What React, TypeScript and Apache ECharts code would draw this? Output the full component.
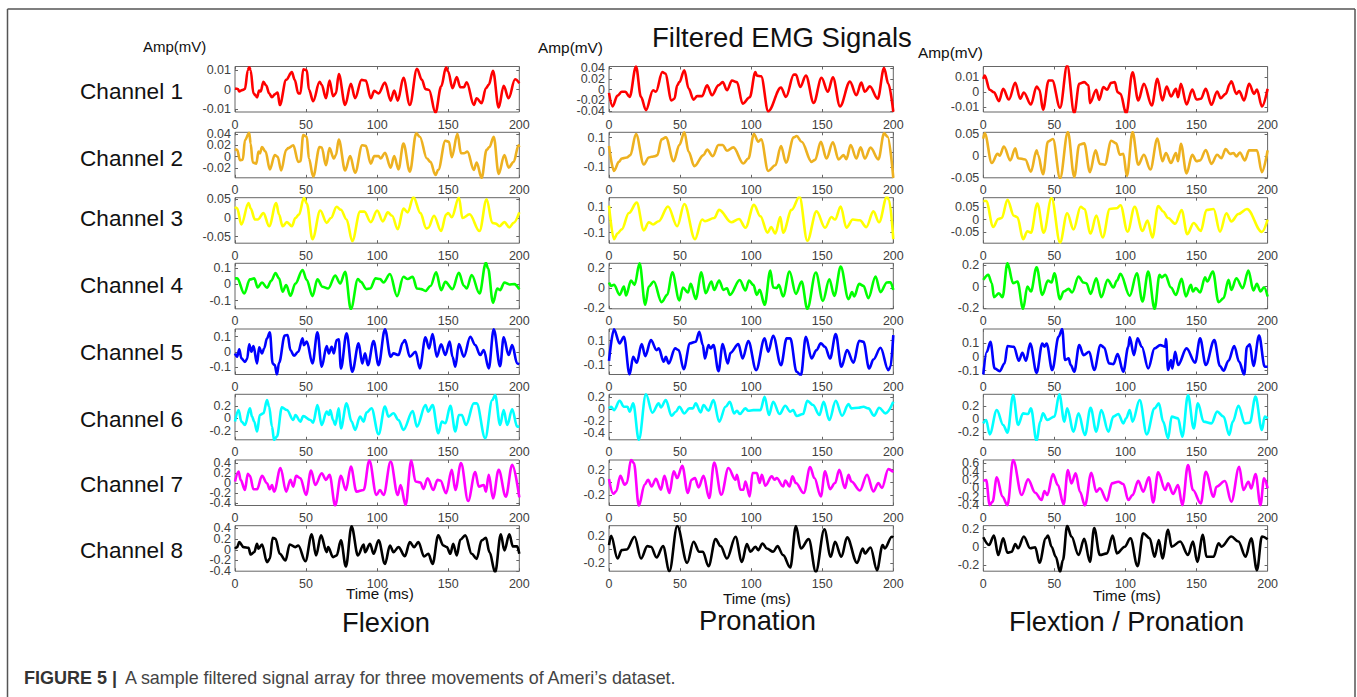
import React, { useEffect, useRef } from "react";
import * as echarts from "echarts";

type Pt = [number, number];

const flexionCh1: Pt[] = [[0,.0005],[2,.0003],[3,-.001],[5,-.0003],[7,.0003],[9,.01],[10,.0115],[11,.01],[13,-.002],[14.5,-.003],[15.5,-.004],[17,-.0005],[18,-.001],[20,.004],[22,.002],[24,-.002],[26,-.004],[28,-.0025],[30,-.0015],[31.5,-.008],[36,.005],[40,.009],[42,.005],[44.5,-.002],[46,-.002],[48,.0105],[50.5,.01],[52,0],[55,-.006],[59.5,.004],[61,.0025],[64,-.0045],[66.5,.0047],[69,-.0035],[71,-.002],[73,.008],[77.5,-.008],[81.5,.003],[84.5,-.0045],[89,.005],[92,.0047],[95.5,-.0045],[98,-.0007],[101,-.002],[105.5,.0036],[109.5,-.0057],[112,-.0005],[114.5,-.0057],[118.5,.006],[123,-.008],[128,.0107],[131.5,.005],[134,.0002],[136.5,-.0002],[141,-.012],[145,.0015],[148.5,.0115],[150,.0092],[153,.0007],[156,.0064],[158.5,.0012],[161,.0012],[163,.0038],[168,-.008],[170,-.0045],[173.5,-.007],[176.5,.0007],[178.5,.0024],[181.5,.0097],[185.5,-.0093],[189,.0019],[192.5,-.0045],[197,.0053],[200,.0033]];
const flexionCh2: Pt[] = [[0,.013],[1.5,.012],[3.5,-.006],[5.5,-.005],[7,.029],[10,.042],[11,.023],[12.5,-.01],[15,-.012],[16.5,.009],[17.5,.006],[19,.017],[21.5,.009],[24.5,-.022],[28,.003],[30,0],[32.5,-.024],[36,.012],[37.5,.015],[41,.02],[44.5,-.009],[46,-.008],[48,.038],[50.5,.035],[52,-.003],[55,-.035],[59.5,.017],[61,.016],[64,-.015],[66.5,.015],[69.5,-.003],[71,.003],[73,.03],[77.5,-.024],[81,.001],[84.5,-.028],[89.5,.02],[92,.019],[95.5,-.012],[98,.001],[101,.001],[102.5,-.003],[105.5,.007],[109.5,-.019],[112,.001],[115,-.022],[118.5,.023],[123,-.026],[127.5,.041],[130,.035],[135,-.003],[137.5,-.009],[141,-.032],[143,-.023],[148,.028],[150.5,.026],[152.5,-.001],[156.5,.04],[159,.006],[161,.006],[163.5,.009],[168,-.023],[170,-.01],[173.5,-.037],[177,.012],[179,.017],[182,.035],[185.5,-.03],[189.5,.003],[192.5,-.019],[196,-.009],[199.5,.02],[200,.017]];
const flexionCh3: Pt[] = [[0,.03],[1.5,.026],[4.5,-.0175],[9.5,.04],[11,.026],[14,-.004],[16,-.004],[20,.013],[24,-.022],[29,.04],[31,.009],[33.5,-.022],[36.5,-.011],[40,-.022],[42.5,0],[45,.009],[48.5,.054],[50.5,.039],[54.5,-.057],[60,.02],[64.5,-.013],[67.5,0],[71.5,.03],[74.5,.022],[78.5,-.004],[82.5,-.062],[88,.017],[91,.017],[95.5,-.011],[100,.02],[104,-.009],[107.5,.015],[110.5,.006],[114.5,-.03],[118.5,.025],[121.5,.015],[125.5,.056],[130.5,.013],[134.5,-.028],[136,-.026],[140,.006],[145,-.035],[148.5,.009],[150,.013],[152.5,.002],[157.5,.055],[160,0],[165,.01],[172,-.035],[177,.05],[181,-.013],[183.5,-.015],[186,-.022],[189.5,-.011],[193,-.025],[196,-.013],[200,.015]];
const flexionCh4: Pt[] = [[0,.037],[1.5,.037],[6.5,-.056],[10.5,.031],[13.5,.037],[16,-.019],[19,.012],[22.5,-.02],[25.5,.023],[28.5,.07],[31,.037],[33.5,-.045],[36,-.004],[39,-.07],[42.5,.006],[47.5,.089],[50.5,.027],[54.5,-.072],[58,.031],[61.5,-.014],[65.5,-.025],[70.5,.054],[74,.006],[77.5,.078],[81.5,-.152],[86.5,.033],[88.5,.016],[92.5,-.029],[95,-.025],[99,.037],[102,.033],[104.5,.012],[109,.064],[114,-.072],[118.5,.047],[121.5,.033],[125,.047],[128,-.025],[131,-.029],[134,-.04],[137.5,-.01],[141.5,.074],[145,-.035],[148,.016],[153,-.029],[157.5,.072],[161,-.008],[163,-.025],[166.5,.058],[172,-.056],[176.5,.134],[178,.099],[181.5,-.113],[184.5,-.025],[186.5,-.035],[189.5,.012],[193,0],[196.5,.002],[200,-.03]];
const flexionCh5: Pt[] = [[0,-.011],[1.5,-.033],[3,.016],[4.5,-.044],[7,-.067],[8.5,-.049],[10,.049],[11.5,0],[13,.038],[15.5,-.078],[17,.029],[19,-.011],[20.5,.022],[22.5,.089],[24.5,.129],[26.5,-.078],[28,-.089],[29.5,-.151],[31,-.073],[35,.107],[37,.111],[39,.011],[41.5,-.027],[44.5,0],[47.5,.089],[48.5,.044],[50.5,.067],[54.5,-.078],[58,.129],[61,-.1],[64.5,.038],[66,-.011],[68,.033],[69.5,-.011],[71.5,.078],[73,.082],[74.5,-.111],[78.5,.122],[82.5,-.133],[87,.056],[89.5,-.078],[91.5,-.011],[93.5,-.089],[97.5,.071],[101,-.089],[105.5,.149],[109.5,-.033],[111.5,-.011],[115,-.022],[118,.06],[119.5,.078],[123,-.033],[127,0],[130,-.111],[134,.096],[136.5,.022],[139,.118],[142,-.033],[145,.049],[148,-.022],[151,.067],[153,-.033],[155,-.1],[157.5,.051],[161,-.033],[165.5,.1],[169,.044],[172.5,-.022],[175,.011],[178.5,-.111],[182,.149],[186.5,-.096],[189,.096],[192.5,-.022],[195,.044],[198.5,-.078],[200,-.082]];
const flexionCh6: Pt[] = [[0,-.053],[2.5,.133],[4.5,-.053],[7,-.107],[10.5,.16],[12,.027],[13.5,-.053],[15.5,-.213],[17.5,.053],[20,.08],[22.5,.293],[24,.187],[26,-.133],[27.5,-.347],[29.5,-.293],[33,.176],[36.5,.133],[41,-.027],[42.5,.053],[46,-.053],[48,.037],[53,-.027],[55,-.069],[58,.213],[61,-.107],[64.5,.107],[66,.053],[67,.133],[69,-.027],[70.5,-.107],[73,.16],[74.5,-.16],[78.5,.24],[82,-.053],[84.5,-.187],[88,.027],[90.5,-.053],[92.5,.091],[96,.16],[101,-.256],[105.5,.187],[108,.027],[111.5,.08],[115,-.027],[118.5,-.187],[125,.117],[128,-.133],[134,.213],[136,.107],[139,.213],[143,-.24],[145.5,-.053],[148,-.08],[151.5,.2],[155,-.213],[157.5,.053],[159.5,.053],[162.5,-.107],[168,.24],[170,.24],[176,-.32],[181,.293],[183,.373],[186.5,-.107],[189,.133],[191.5,-.107],[195,.144],[198.5,-.133],[200,-.133]];
const flexionCh7: Pt[] = [[0,.034],[2.5,.237],[4,.068],[7,-.136],[9,.19],[10.5,.149],[13,-.122],[15.5,-.122],[19,.149],[22.5,0],[24.5,-.122],[26,-.034],[27.5,-.17],[32,.305],[36,-.17],[39,.068],[41,-.068],[43,.149],[46,.102],[50,-.237],[53.5,.258],[56.5,-.034],[61,.203],[64,.068],[66.5,.17],[70.5,-.45],[74.5,.149],[78,-.136],[81.5,.339],[85.5,-.17],[90.5,-.136],[94.5,.461],[99.5,-.237],[102,-.136],[104.5,-.237],[109.5,.441],[114.5,-.237],[116.5,-.034],[120,-.44],[124,.461],[127,.034],[130.5,.014],[132.5,-.115],[135.5,.102],[139.5,-.136],[142.5,.068],[144.5,.054],[148.5,-.203],[152.5,.271],[155,-.136],[159,.407],[164,-.359],[169,.224],[171.5,-.068],[175,-.034],[176.5,-.17],[178.5,.17],[181.5,-.305],[185.5,.271],[190.5,-.271],[195,.373],[200,-.285]];
const flexionCh8: Pt[] = [[0,.019],[1.5,.05],[3,.144],[6,.05],[9.5,.038],[11,-.088],[13.5,-.044],[15.5,.113],[16.5,.019],[19,.1],[22.5,-.231],[24.5,-.169],[26.5,.225],[28.5,.206],[31.5,-.075],[35.5,-.2],[38.5,.1],[42.5,.05],[44.5,.081],[49.5,-.213],[54,.288],[57,-.106],[60.5,.269],[64.5,-.044],[65.5,.05],[69,-.138],[71.5,-.106],[74.5,.175],[78,-.313],[82,.438],[86.5,-.106],[90.5,.1],[91.5,-.044],[95,.113],[97.5,-.075],[101,.175],[105.5,-.263],[109,.081],[111.5,-.044],[115,.05],[119.5,-.119],[123,.144],[126,.05],[129,.144],[133,-.125],[136,-.075],[139,-.263],[143,.269],[146.5,.081],[149,.05],[151.5,-.075],[153.5,.113],[156,-.106],[158.5,.188],[162,.269],[166.5,-.075],[170,-.169],[173.5,.175],[176.5,.225],[179,-.044],[183,-.419],[187,.288],[189.5,-.013],[193,.288],[195.5,.063],[198.5,.063],[200,-.075]];

const pronationCh1: Pt[] = [[0,-.006],[2.5,-.031],[6,-.011],[9,-.004],[11.5,-.004],[14.5,-.0135],[19,.043],[22.5,-.0135],[26,-.038],[31,-.001],[33,-.004],[37.5,.0326],[39.5,.03],[44,-.02],[46,-.017],[48,.008],[49.5,.014],[53,.036],[56,.002],[59.5,-.0185],[62,-.012],[65.5,-.012],[69,.008],[72.5,-.0105],[77,.008],[80,.014],[83,-.001],[86.5,.017],[90,.014],[94,-.026],[99,-.014],[103,.0326],[104,.026],[107,.025],[112,-.04],[121,.004],[124.5,-.0135],[130,.028],[131.5,.028],[134.5,.005],[138.5,.026],[144,-.0246],[149.5,.022],[154,-.004],[157.5,.023],[162.5,-.031],[169.5,.015],[174,-.0105],[177.5,.013],[180,-.004],[183.5,.006],[189,-.017],[193.5,.04],[196.5,.011],[200,-.041]];
const pronationCh2: Pt[] = [[0,.043],[3.5,-.124],[7,-.063],[9,-.041],[12.5,-.034],[15,-.018],[19,.124],[24.5,-.081],[28,-.034],[30,-.029],[32.5,-.025],[34,-.018],[37,.088],[40,.101],[45.5,-.059],[49.5,.05],[53,.135],[56,.005],[60,-.092],[66.5,-.018],[69,.02],[73,-.025],[77,.05],[80,.05],[83,.011],[87.5,.034],[94.5,-.074],[98,-.041],[102,.124],[105,.072],[107,.088],[112,-.124],[117,-.086],[121,.043],[124.5,-.068],[130,.101],[132,.11],[135.5,.072],[142.5,-.063],[145,-.05],[149,.072],[153,-.041],[157.5,.068],[161.5,-.047],[165,-.018],[167,-.045],[170,.05],[174,-.041],[177,.034],[180,-.041],[184,.032],[189.5,-.047],[193.5,.128],[196,.106],[200,-.17]];
const pronationCh3: Pt[] = [[0,.114],[3.5,-.153],[6,-.107],[9,-.075],[14,.055],[19.5,.138],[24.5,-.083],[28,-.018],[31,-.036],[35,-.01],[41.5,.107],[48,-.05],[53,.127],[60.5,-.153],[65.5,.003],[67.5,-.01],[74,.016],[77.5,.08],[86,-.018],[91.5,.008],[96,-.062],[102,.12],[106.5,.029],[111.5,-.101],[114,-.057],[117,-.107],[120.5,.023],[122.5,-.101],[128.5,.08],[134,.185],[139.5,-.166],[146,.068],[152,-.062],[156.5,.023],[159,.003],[163,.107],[167,-.062],[171.5,.003],[176.5,-.003],[181,-.057],[186,.068],[190,-.018],[195.5,.185],[197,.159],[200,-.153]];
const pronationCh4: Pt[] = [[0,.057],[1.5,.023],[3.5,.033],[7.5,-.067],[10.5,.017],[12,-.073],[15.5,.077],[18,.033],[21.5,.25],[25.5,-.167],[28,.017],[31.5,.067],[37,-.14],[41,-.067],[44.5,.16],[49.5,-.123],[52,.007],[55.5,-.043],[57.5,.043],[61,-.107],[65,.16],[68,-.05],[72,.067],[74,-.017],[77.5,.077],[80.5,-.017],[83,0],[85,-.067],[92,.083],[96,-.023],[98.5,.077],[101.5,.033],[104,-.067],[106,-.017],[109.5,-.167],[113.5,.177],[115.5,.007],[118,0],[119.5,.033],[122.5,-.083],[127,.167],[131.5,-.057],[135.5,.067],[139.5,-.207],[145.5,.157],[150.5,-.127],[155,.09],[158.5,-.077],[163,.217],[168.5,-.11],[171,-.04],[172.5,-.083],[176,.043],[179,.023],[182.5,-.1],[187.5,.117],[191,-.04],[195.5,.057],[198,.06],[200,-.017]];
const pronationCh5: Pt[] = [[0,-.066],[3.5,.192],[7.5,.077],[10.5,.132],[14.5,-.178],[17,-.033],[19.5,-.082],[23,.071],[25.5,-.027],[29.5,.104],[33.5,.022],[35,.036],[38.5,-.074],[40,-.033],[42,-.088],[46.5,.036],[49,.022],[52.5,-.134],[57,.077],[61,.091],[63.5,.173],[66,.063],[67.5,-.047],[70,.063],[71.5,.036],[73.5,.063],[77,-.151],[80,.071],[83.5,-.088],[85.5,0],[91,.071],[94,-.047],[98,.096],[103.5,-.142],[109.5,.118],[112,.008],[115.5,.14],[121,-.101],[125,.118],[127.5,.118],[132,-.156],[135,-.184],[138.5,.132],[142.5,-.047],[146,.022],[149,.077],[152,.049],[155.5,-.047],[159.5,.153],[163.5,-.115],[167.5,.022],[172,-.082],[176,.099],[179,.091],[183,-.129],[186,-.055],[191,.041],[196.5,-.142],[198,-.115],[200,.145]];
const pronationCh6: Pt[] = [[0,.011],[1.5,.039],[3.5,-.017],[7.5,.141],[10.5,.039],[13,.039],[14.5,-.045],[17,.096],[21,-.52],[26,.25],[30.5,-.062],[35,.096],[36.5,.028],[40,.152],[44,-.113],[47,-.045],[49.5,.039],[53,-.073],[56.5,.011],[59,.011],[61,.096],[64.5,-.056],[66.5,.068],[70,-.028],[73.5,.152],[77.5,-.214],[82,.039],[85,.124],[88,-.073],[90,-.028],[92,-.084],[96,.011],[98,-.028],[101.5,-.017],[104,-.017],[106.5,-.017],[109.5,.208],[112.5,-.101],[115.5,.124],[120,-.084],[124,.056],[127.5,-.045],[129.5,-.017],[132,-.118],[136.5,-.084],[139.5,.141],[143.5,.068],[148,-.101],[151,.124],[155,-.186],[159.5,.141],[164,-.113],[168.5,.084],[170.5,.011],[175.5,.023],[179,.039],[182.5,.011],[186.5,-.113],[190,.023],[194.5,-.073],[200,.124]];
const pronationCh7: Pt[] = [[0,.052],[3,-.177],[5,-.14],[8,.104],[11,-.036],[12.5,-.01],[15.5,.354],[17.5,.302],[21,-.364],[25,-.036],[27.5,.042],[30,-.062],[33,.057],[36.5,-.114],[39,.104],[42.5,-.166],[45.5,.172],[48,.068],[51.5,.26],[55.5,-.166],[58,.042],[60.5,.068],[63,-.078],[66.5,.104],[70.5,-.244],[74,.312],[79,-.192],[84,.224],[89,.042],[90,.12],[92.5,-.114],[94.5,-.114],[96,.015],[99,-.218],[101,.146],[104,.146],[106,-.01],[107.5,.12],[110,-.052],[114.5,.094],[116.5,.042],[118,.068],[122.5,-.062],[124,.031],[127,-.062],[129,.094],[131.5,-.01],[137,-.166],[141.5,.239],[144.5,.068],[149,-.218],[152,.172],[155.5,-.104],[159,-.01],[162,.198],[166,-.088],[168.5,.12],[170.5,.015],[176.5,-.125],[181.5,.12],[186,-.14],[189.5,-.01],[192,-.088],[196.5,.208],[200,.161]];
const pronationCh8: Pt[] = [[0,.065],[1.5,.205],[6,-.135],[9,-.01],[12.5,0],[18,.19],[22.5,-.135],[27,.05],[29.5,.04],[33.5,-.12],[38,.05],[42.5,-.325],[48,.35],[55,-.2],[59.5,.115],[63.5,-.035],[66,-.035],[70,-.25],[75,.155],[78.5,.05],[83,-.135],[89,.19],[93.5,-.185],[97,.08],[99.5,-.035],[103,.04],[105,-.01],[108,.09],[111,.015],[115.5,-.035],[118.5,.05],[122.5,-.085],[127.5,-.27],[131.5,.35],[135,.015],[140.5,.155],[145.5,-.335],[151.5,.3],[156,-.11],[159,.115],[163.5,-.11],[167.5,.18],[174.5,-.2],[178.5,.015],[180,-.06],[184,.03],[188.5,-.31],[192.5,.065],[194,.015],[199,.19],[200,.18]];

const comboCh1: Pt[] = [[0,.0091],[1,.0113],[4.5,.0018],[7.5,.0002],[11,-.0058],[14,.0024],[18,-.0047],[22.5,.0064],[26,-.0042],[28.5,0],[33.5,-.008],[37.5,.004],[39.5,.0018],[42,-.0115],[46,.008],[48.5,.008],[54,-.0102],[59,.018],[64,-.0138],[67.5,.0058],[71,.0069],[74,.0047],[75,-.0071],[79.5,.0018],[81.5,-.0049],[84.5,.0036],[87,.0018],[90,.0064],[92.5,.0069],[94.5,.0002],[96.5,-.0009],[100.5,-.0142],[105,.0135],[109,-.0053],[113,.0058],[118.5,-.0087],[122.5,.0091],[126,-.0053],[129,.004],[132,-.0027],[135.5,.0024],[137,-.0031],[139,.0058],[143,-.008],[147,.002],[150,-.0047],[153,-.0042],[156.5,.0024],[160.5,-.0082],[164.5,.0007],[167,-.0038],[170.5,-.0009],[173.5,.0058],[174.5,.0075],[178,-.0009],[180,.0009],[183.5,-.0053],[187,.0058],[190.5,-.0009],[192.5,.002],[196,-.0093],[200,.0024]];
const comboCh2: Pt[] = [[0,.04],[1,.052],[6,-.016],[10,.005],[11.5,.001],[14.5,.022],[19,-.01],[22.5,.018],[24.5,-.005],[29.5,-.008],[33.5,-.036],[37.5,.013],[38.5,.003],[42,-.042],[45.5,.033],[49,.039],[54,-.051],[59.5,.055],[64,-.048],[67.5,.026],[71,.029],[75,-.037],[79,.013],[82,-.018],[85.5,-.02],[90,.035],[93.5,.029],[96,.003],[98.5,.005],[101,-.046],[105,.055],[109,-.02],[113,.003],[117.5,-.031],[122.5,.04],[126,-.012],[128.5,.007],[132,-.016],[135.5,.007],[137,-.012],[139,.028],[143,-.04],[147,.003],[150,-.012],[152.5,-.01],[156.5,.014],[160.5,-.018],[164.5,.003],[167.5,-.005],[170.5,.016],[173.5,.005],[176,.007],[178,-.001],[180.5,.008],[184,-.01],[187,.013],[192.5,.013],[196,-.037],[200,.013]];
const comboCh3: Pt[] = [[0,.075],[2,.075],[7,-.029],[10.5,.003],[13,.007],[17,.08],[21.5,.016],[24,.01],[28,-.078],[31,-.046],[33.5,-.052],[38,.065],[42.5,-.052],[48,.087],[54,-.091],[59,.026],[63.5,-.039],[68.5,.052],[71,.043],[75.5,-.055],[79.5,.017],[84,-.071],[89,.043],[94,.046],[96.5,.058],[101.5,-.048],[106.5,.052],[112,-.045],[115.5,-.003],[119,-.071],[123,.055],[126.5,.033],[130,.007],[135,-.016],[139.5,.039],[143.5,-.058],[148,-.013],[153,-.045],[157,.039],[162,.043],[166.5,-.048],[171,.026],[174.5,-.007],[179.5,.023],[185.5,.043],[196,-.049],[200,0]];
const comboCh4: Pt[] = [[0,.062],[3.5,.108],[6,.031],[7.5,-.099],[11,-.062],[13.5,-.099],[17,.216],[21,.031],[24,.046],[28,-.206],[31,0],[33.5,-.046],[37.5,.179],[41.5,-.077],[45.5,.055],[48,.037],[50,.123],[54,-.117],[56.5,-.046],[60,-.022],[62.5,-.055],[67,.092],[70.5,.037],[72.5,.031],[75.5,-.068],[79.5,.077],[83,-.099],[87.5,.062],[91.5,-.009],[94,.055],[96.5,.117],[103,-.086],[108,.123],[112,-.139],[116,.139],[120.5,-.206],[124,.108],[125.5,.083],[128,.108],[132,-.009],[135.5,-.077],[139.5,.071],[142.5,-.092],[146,.015],[147.5,-.046],[149.5,-.015],[152.5,-.055],[156,.086],[157.5,.046],[161.5,.139],[165.5,-.145],[169,-.108],[172.5,.062],[174.5,-.031],[178,.077],[182.5,-.015],[186.5,.148],[190,-.037],[192.5,.025],[195,-.046],[197.5,-.006],[200,-.092]];
const comboCh5: Pt[] = [[0,-.128],[2.5,.036],[5,.108],[8,-.084],[11.5,-.104],[15,-.048],[17,.077],[21.5,.072],[25,-.029],[27.5,.029],[30,-.029],[33,.096],[37.5,-.116],[41.5,.096],[43,.072],[44.5,.096],[48.5,-.096],[53,.145],[55.5,.2],[57.5,-.024],[60,-.012],[61.5,-.06],[64,-.108],[67.5,.084],[70.5,.012],[74.5,.036],[78,-.096],[82.5,.084],[85,.067],[88.5,-.048],[91.5,-.053],[94.5,.019],[98.5,-.108],[102,.072],[103,.14],[106,.012],[108.5,.133],[111.5,.072],[116,-.084],[120.5,.06],[124.5,.084],[128,.072],[128.5,.127],[130,-.096],[132,-.024],[133,-.084],[135,.036],[137,-.06],[143,.06],[149,-.043],[152.5,.133],[156.5,-.06],[162.5,.12],[166.5,-.067],[169,-.101],[172.5,-.029],[176.5,.077],[180,-.036],[183.5,-.128],[185.5,.072],[187.5,.089],[190,-.067],[194,.152],[198,-.072],[200,-.072]];
const comboCh6: Pt[] = [[0,-.067],[2,-.015],[4.5,-.236],[9.5,.139],[14,-.092],[17,-.21],[21,.369],[24.5,-.092],[28,.087],[31.5,.077],[33.5,.164],[37.5,-.338],[40,-.041],[42,.087],[45,-.015],[50,.036],[53.5,.38],[57,-.041],[59,.164],[63.5,-.195],[67,.087],[71.5,-.246],[75.5,.174],[79.5,-.195],[83,.139],[88,-.195],[91.5,.036],[95,.077],[98.5,-.067],[100.5,.01],[103,.139],[105,-.041],[110,.292],[115,-.236],[120.5,.164],[123.5,.241],[126.5,-.041],[130,-.298],[132.5,.036],[137,.01],[140,-.272],[144,.369],[148,-.144],[151,.241],[155,-.041],[160.5,-.067],[164.5,.113],[169,.036],[173,-.246],[175.5,-.041],[179.5,.205],[184,-.067],[187.5,-.056],[191.5,.344],[196,-.169],[198,.036],[200,.01]];
const comboCh7: Pt[] = [[0,.184],[2,.2],[4.5,-.4],[6.5,-.32],[9.5,.264],[13.5,-.2],[17,-.4],[21,.68],[27,-.16],[31.5,.216],[36.5,-.104],[41,-.28],[43,-.064],[45,-.16],[49,.344],[52.5,.08],[56.5,-.384],[59.5,.44],[62,.12],[65,.36],[68,-.08],[71.5,-.41],[76,.376],[79.5,-.08],[82,0],[87,-.296],[90.5,.12],[95,.16],[98.5,.104],[102,-.28],[105,-.16],[109,.184],[112.5,-.08],[116.5,.264],[119.5,-.336],[123,.384],[128,-.04],[130,.12],[133.5,-.136],[137,.08],[140,-.4],[144,.56],[147.5,-.04],[153,-.36],[156.5,.4],[162,-.2],[164,.04],[170,.176],[174.5,-.32],[180,.52],[183,-.04],[186.5,.16],[188.5,0],[191.5,.344],[195,-.4],[197.5,.24],[200,0]];
const comboCh8: Pt[] = [[0,.112],[4,.026],[7.5,.131],[10.5,-.086],[14,.101],[17,-.06],[20,-.049],[22.5,.037],[24.5,-.011],[28.5,.12],[33,-.011],[36.5,0],[39.5,-.172],[44,.101],[45.5,.131],[48,.007],[51,-.105],[54,-.273],[56,-.142],[59,.239],[62,.12],[67,-.086],[71,.094],[75,-.161],[78,.213],[82,-.086],[87,-.067],[91,.131],[94,-.067],[99.5,.007],[103.5,.101],[108.5,-.209],[112.5,.157],[117,.101],[120.5,-.105],[123.5,.082],[126,-.123],[130,.194],[132.5,.007],[138.5,.064],[144,-.086],[147.5,.064],[150.5,-.161],[154.5,.138],[157,-.105],[162,-.105],[165.5,.045],[167.5,.007],[174.5,.12],[179.5,.064],[184.5,-.105],[188.5,.101],[192.5,-.254],[196,.12],[200,.09]];

const signals: Pt[][][] = [
  [flexionCh1, flexionCh2, flexionCh3, flexionCh4, flexionCh5, flexionCh6, flexionCh7, flexionCh8],
  [pronationCh1, pronationCh2, pronationCh3, pronationCh4, pronationCh5, pronationCh6, pronationCh7, pronationCh8],
  [comboCh1, comboCh2, comboCh3, comboCh4, comboCh5, comboCh6, comboCh7, comboCh8],
];

const yLimits: [number, number][][] = [
  [[-.0116,.0119],[-.0368,.0427],[-.0675,.0544],[-.15,.13],[-.151,.151],[-.345,.385],[-.45,.47],[-.4,.45]],
  [[-.0415,.043],[-.17,.135],[-.185,.177],[-.207,.25],[-.178,.195],[-.52,.25],[-.36,.35],[-.325,.355]],
  [[-.013,.0173],[-.05,.0545],[-.094,.088],[-.206,.215],[-.128,.2],[-.32,.38],[-.41,.68],[-.265,.24]],
];
const yTicks: number[][][] = [
  [[-.01,0,.01],[-.02,0,.02,.04],[-.05,0,.05],[-.1,0,.1],[-.1,0,.1],[-.2,0,.2],[-.4,-.2,0,.2,.4],[-.4,-.2,0,.2,.4]],
  [[-.04,-.02,0,.02,.04],[-.1,0,.1],[-.1,0,.1],[-.2,0,.2],[-.1,0,.1],[-.4,-.2,0,.2],[-.2,0,.2],[-.2,0,.2]],
  [[-.01,0,.01],[-.05,0,.05],[-.05,0,.05],[-.2,0,.2],[-.1,0,.1],[-.2,0,.2],[-.4,-.2,0,.2,.4,.6],[-.2,0,.2]],
];
const channelColors = ["#ff0000", "#edb120", "#ffff00", "#00ff00", "#0000ff", "#00ffff", "#ff00ff", "#000000"];
const channelNames = ["Channel 1", "Channel 2", "Channel 3", "Channel 4", "Channel 5", "Channel 6", "Channel 7", "Channel 8"];
const timeTicksInterval = 50;

const colLeft = [235, 609, 983.3];
const plotW = 284.3;
const rowTop = [66.5, 132.3, 197.7, 263.3, 329, 394.3, 460, 525.7];
const plotH = 45.5;
const channelLabelY = [91, 158, 218, 285, 352, 419, 484, 550];

const FONT = "'Liberation Sans', Arial, sans-serif";
const tickGrey = "#666666";
const labelGrey = "#404040";

function buildOption() {
  const grid: any[] = [];
  const xAxis: any[] = [];
  const yAxis: any[] = [];
  const series: any[] = [];
  let g = 0;
  signals.forEach((col, c) => {
    col.forEach((data, r) => {
      const [ymin, ymax] = yLimits[c][r];
      const ticks = yTicks[c][r];
      grid.push({ left: colLeft[c], top: rowTop[r], width: plotW, height: plotH, show: true, borderColor: tickGrey, borderWidth: 1, backgroundColor: "#fff", containLabel: false });
      const noLine = { show: false, onZero: false };
      const baseX = { gridIndex: g, type: "value", min: 0, max: 200, interval: timeTicksInterval, splitLine: { show: false }, axisLine: noLine };
      const baseY = { gridIndex: g, type: "value", min: ymin, max: ymax, splitLine: { show: false }, axisLine: noLine };
      const tick = { show: true, inside: true, length: 3, lineStyle: { color: tickGrey, width: 1 } };
      xAxis.push({ ...baseX, position: "bottom", axisTick: tick, axisLabel: { show: true, color: labelGrey, fontFamily: FONT, fontSize: 12.5, margin: 6 } });
      xAxis.push({ ...baseX, position: "top", axisTick: tick, axisLabel: { show: false } });
      // Empty labels at both limits keep ECharts' first/last overlap check from dropping real tick labels.
      yAxis.push({
        ...baseY, position: "left", axisTick: { ...tick, customValues: ticks },
        axisLabel: {
          show: true, customValues: [ymin, ...ticks, ymax], color: labelGrey, fontFamily: FONT, fontSize: 12.5, margin: 4,
          formatter: (v: number) => (ticks.includes(v) ? String(v) : ""),
        },
      });
      yAxis.push({ ...baseY, position: "right", axisTick: { ...tick, customValues: ticks }, axisLabel: { show: false } });
      series.push({ type: "line", xAxisIndex: g * 2, yAxisIndex: g * 2, data, showSymbol: false, smooth: 0.35, smoothMonotone: "x", lineStyle: { color: channelColors[r], width: 2.6 }, itemStyle: { color: channelColors[r] }, silent: true });
      g++;
    });
  });

  const text = (x: number, y: number, t: string, size: number, extra: any = {}) => ({
    type: "text", x, y, silent: true,
    style: { text: t, fontFamily: FONT, fontSize: size, fill: "#111111", textVerticalAlign: "middle", textAlign: "left", ...extra },
  });

  const frame = { stroke: "#555", lineWidth: 1.5 };
  const elements: any[] = [
    { type: "line", silent: true, shape: { x1: 7.5, y1: 9, x2: 1355, y2: 9 }, style: frame },
    { type: "line", silent: true, shape: { x1: 7.5, y1: 9, x2: 7.5, y2: 697 }, style: frame },
    { type: "line", silent: true, shape: { x1: 1355, y1: 9, x2: 1355, y2: 697 }, style: frame },
    text(652, 37, "Filtered EMG Signals", 27.5),
    text(143, 46, "Amp(mV)", 15),
    text(538, 47, "Amp(mV)", 15.4),
    text(918, 52, "Amp(mV)", 15.4),
    text(346, 593, "Time (ms)", 15.2),
    text(723, 598, "Time (ms)", 15.2),
    text(1093, 595, "Time (ms)", 15.2),
    text(342, 622, "Flexion", 27.3),
    text(699, 620, "Pronation", 27.3),
    text(1009, 621, "Flextion / Pronation", 27.3),
    text(24, 678, "FIGURE 5 |", 18, { fontWeight: "bold", fill: "#333" }),
    text(125, 678, "A sample filtered signal array for three movements of Ameri\u2019s dataset.", 17.9, { fill: "#444" }),
  ];
  channelNames.forEach((n, i) => elements.push(text(80, channelLabelY[i], n, 22.6)));

  return { animation: false, backgroundColor: "#fff", grid, xAxis, yAxis, series, graphic: { elements } };
}

export default function App() {
  const ref = useRef<HTMLDivElement>(null);
  useEffect(() => {
    document.body.style.margin = "0";
    const chart = echarts.init(ref.current!, undefined, { renderer: "svg" });
    chart.setOption(buildOption());
    return () => chart.dispose();
  }, []);
  return <div ref={ref} style={{ width: 1357, height: 697 }} />;
}
